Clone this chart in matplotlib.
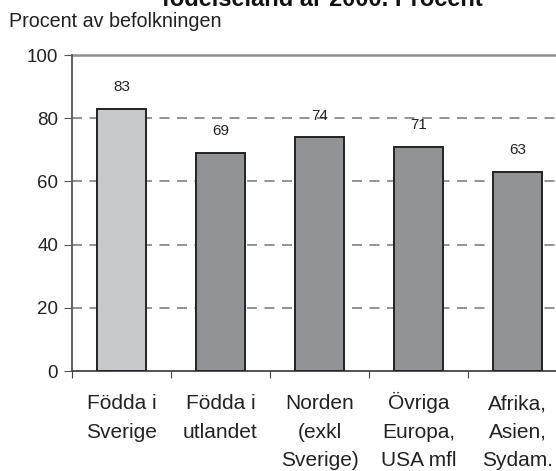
import matplotlib
matplotlib.use("Agg")
import matplotlib.pyplot as plt

plt.rcParams['font.family'] = ['Liberation Sans', 'DejaVu Sans']

categories = ["Födda i\nSverige", "Födda i\nutlandet", "Norden\n(exkl\nSverige)",
              "Övriga\nEuropa,\nUSA mfl", "Afrika,\nAsien,\nSydam."]
values = [83, 69, 74, 71, 63]
bar_colors = ["#c8c9cc", "#929396", "#929396", "#929396", "#929396"]
yticks = [0, 20, 40, 60, 80, 100]

fig = plt.figure(figsize=(5.56, 4.71), dpi=100)
ax = fig.add_axes([72 / 556, 1 - 371 / 471, 495 / 556, 316 / 471])

x = list(range(len(values)))
ax.bar(x, values, width=0.505, color=bar_colors, edgecolor="#222222", linewidth=1.4, zorder=3)
for xi, v in zip(x, values):
    ax.annotate(str(v), (xi, v), xytext=(0, 10.5), textcoords="offset points",
                ha="center", va="bottom", fontsize=11, color="#222222", zorder=4)

# category labels, one line at a time so all lines share baselines
for xi, lab in zip(x, categories):
    for k, line in enumerate(lab.split("\n")):
        ax.annotate(line, (xi, 0), xytext=(0, -27.5 - 20.5 * k), textcoords="offset points",
                    ha="center", va="baseline", fontsize=15, color="#222222",
                    annotation_clip=False)

ax.set_xlim(-0.5, 4.5)
ax.set_ylim(0, 100)
ax.set_yticks(yticks)
ax.set_yticklabels([str(t) for t in yticks], fontsize=13.5, color="#222222")
for t in yticks[1:-1]:
    ax.axhline(t, color="#808080", lw=1.2, ls=(0, (6, 4.5)), zorder=1)
ax.axhline(100, color="#909090", lw=1.8, zorder=1, clip_on=False)

ax.set_xticks([i - 0.5 for i in range(len(values))] + [4.5])
ax.set_xticklabels([])
ax.tick_params(axis="x", length=5, direction="out", color="#444444")
ax.tick_params(axis="y", length=6, direction="out", color="#555555", pad=4)

for s in ["top", "right"]:
    ax.spines[s].set_visible(False)
ax.spines["left"].set_color("#555555")
ax.spines["left"].set_linewidth(1.3)
ax.spines["bottom"].set_color("#444444")
ax.spines["bottom"].set_linewidth(1.3)

fig.text(9 / 556, 1 - 27 / 471, "Procent av befolkningen", fontsize=14.2, color="#222222",
         va="baseline")
fig.text(322 / 556, 1 - 6 / 471, "födelseland år 2000. Procent", fontsize=17,
         fontweight="bold", color="#111111", ha="center", va="baseline")

fig.savefig("out.png", dpi=100)
